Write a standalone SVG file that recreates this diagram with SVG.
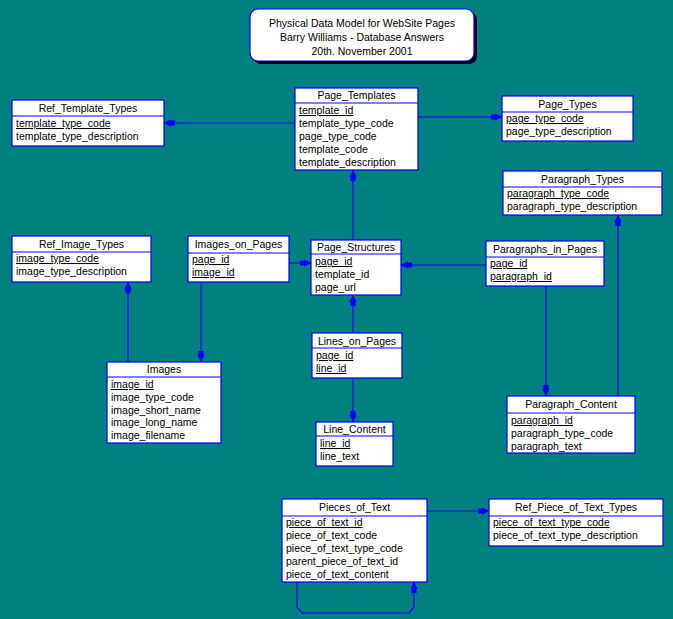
<svg xmlns="http://www.w3.org/2000/svg" width="673" height="619" viewBox="0 0 673 619">
<style>
.bg{fill:#008080}
.box{fill:#ffffff;stroke:#0000ff;stroke-width:1.2}
.sep{stroke:#0000ff;stroke-width:1.2}
text{font-family:"Liberation Sans",Arial,sans-serif;font-size:10.5px;fill:#000000}
.h{text-anchor:middle}
.pk{text-decoration:underline}
.t{text-anchor:middle;font-size:10.5px}
.c{fill:none;stroke:#0000ff;stroke-width:1.2}
</style>
<defs>
<marker id="arr" markerUnits="userSpaceOnUse" markerWidth="16" markerHeight="12" viewBox="-14 -6 16 12" refX="0" refY="0" orient="auto">
<path d="M0,0 L-7,-3.8 L-7,3.8 Z M-7,-2.6 H-11 V2.6 H-7 Z" fill="#0000ff"/>
</marker>
</defs>
<rect class="bg" x="0" y="0" width="673" height="619"/>

<g id="title">
<rect x="253" y="12" width="224" height="52" rx="8" fill="#000000"/>
<rect x="250" y="9" width="224" height="52" rx="8" fill="#ffffff" stroke="#0000ff" stroke-width="1.2"/>
<text class="t" x="362" y="27">Physical Data Model for WebSite Pages</text>
<text class="t" x="362" y="41">Barry Williams - Database Answers</text>
<text class="t" x="362" y="55">20th. November 2001</text>
</g>

<g id="connectors">
<path class="c" d="M295,123 H164" marker-end="url(#arr)"/>
<path class="c" d="M418,117 H502" marker-end="url(#arr)"/>
<path class="c" d="M353,240 V170" marker-end="url(#arr)"/>
<path class="c" d="M289,263 H311" marker-end="url(#arr)"/>
<path class="c" d="M201,282 V362" marker-end="url(#arr)"/>
<path class="c" d="M128,362 V282" marker-end="url(#arr)"/>
<path class="c" d="M486,265 H401" marker-end="url(#arr)"/>
<path class="c" d="M546,286 V396" marker-end="url(#arr)"/>
<path class="c" d="M618,396 V215" marker-end="url(#arr)"/>
<path class="c" d="M353,333 V295" marker-end="url(#arr)"/>
<path class="c" d="M353,378 V422" marker-end="url(#arr)"/>
<path class="c" d="M427,511 H489" marker-end="url(#arr)"/>
<path class="c" d="M297,582 V607 L302,613 H409 L414,607 V582" marker-end="url(#arr)"/>
</g>

<g id="Ref_Template_Types">
<rect class="box" x="12" y="100" width="152" height="46"/>
<line class="sep" x1="12" y1="116" x2="164" y2="116"/>
<text class="h" x="88" y="112">Ref_Template_Types</text>
<text class="pk" x="16" y="127">template_type_code</text>
<text x="16" y="140">template_type_description</text>
</g>

<g id="Page_Templates">
<rect class="box" x="295" y="88" width="123" height="82"/>
<line class="sep" x1="295" y1="103" x2="418" y2="103"/>
<text class="h" x="356.5" y="99">Page_Templates</text>
<text class="pk" x="299" y="114">template_id</text>
<text x="299" y="127">template_type_code</text>
<text x="299" y="140">page_type_code</text>
<text x="299" y="153">template_code</text>
<text x="299" y="166">template_description</text>
</g>

<g id="Page_Types">
<rect class="box" x="502" y="96" width="131" height="45"/>
<line class="sep" x1="502" y1="112" x2="633" y2="112"/>
<text class="h" x="567.5" y="108">Page_Types</text>
<text class="pk" x="506" y="122">page_type_code</text>
<text x="506" y="135">page_type_description</text>
</g>

<g id="Paragraph_Types">
<rect class="box" x="503" y="171" width="159" height="44"/>
<line class="sep" x1="503" y1="187" x2="662" y2="187"/>
<text class="h" x="582.5" y="183">Paragraph_Types</text>
<text class="pk" x="507" y="197">paragraph_type_code</text>
<text x="507" y="210">paragraph_type_description</text>
</g>

<g id="Ref_Image_Types">
<rect class="box" x="12" y="236" width="139" height="46"/>
<line class="sep" x1="12" y1="252" x2="151" y2="252"/>
<text class="h" x="81.5" y="248">Ref_Image_Types</text>
<text class="pk" x="16" y="262">image_type_code</text>
<text x="16" y="275">image_type_description</text>
</g>

<g id="Images_on_Pages">
<rect class="box" x="188" y="236" width="101" height="46"/>
<line class="sep" x1="188" y1="253" x2="289" y2="253"/>
<text class="h" x="238.5" y="248">Images_on_Pages</text>
<text class="pk" x="192" y="263">page_id</text>
<text class="pk" x="192" y="276">image_id</text>
</g>

<g id="Page_Structures">
<rect class="box" x="311" y="240" width="90" height="55"/>
<line class="sep" x1="311" y1="254" x2="401" y2="254"/>
<text class="h" x="356" y="251">Page_Structures</text>
<text class="pk" x="315" y="265">page_id</text>
<text x="315" y="278">template_id</text>
<text x="315" y="291">page_url</text>
</g>

<g id="Paragraphs_in_Pages">
<rect class="box" x="486" y="241" width="118" height="45"/>
<line class="sep" x1="486" y1="257" x2="604" y2="257"/>
<text class="h" x="545" y="253">Paragraphs_in_Pages</text>
<text class="pk" x="490" y="267">page_id</text>
<text class="pk" x="490" y="280">paragraph_id</text>
</g>

<g id="Lines_on_Pages">
<rect class="box" x="312" y="333" width="90" height="45"/>
<line class="sep" x1="312" y1="348" x2="402" y2="348"/>
<text class="h" x="357" y="345">Lines_on_Pages</text>
<text class="pk" x="316" y="359">page_id</text>
<text class="pk" x="316" y="372">line_id</text>
</g>

<g id="Images">
<rect class="box" x="107" y="362" width="114" height="81"/>
<line class="sep" x1="107" y1="377" x2="221" y2="377"/>
<text class="h" x="164" y="373">Images</text>
<text class="pk" x="111" y="388">image_id</text>
<text x="111" y="400.8">image_type_code</text>
<text x="111" y="413.6">image_short_name</text>
<text x="111" y="426.4">image_long_name</text>
<text x="111" y="439.2">image_filename</text>
</g>

<g id="Line_Content">
<rect class="box" x="316" y="422" width="77" height="44"/>
<line class="sep" x1="316" y1="436" x2="393" y2="436"/>
<text class="h" x="354.5" y="433">Line_Content</text>
<text class="pk" x="320" y="447">line_id</text>
<text x="320" y="460">line_text</text>
</g>

<g id="Paragraph_Content">
<rect class="box" x="507" y="396" width="128" height="57"/>
<line class="sep" x1="507" y1="413" x2="635" y2="413"/>
<text class="h" x="571" y="408">Paragraph_Content</text>
<text class="pk" x="511" y="424">paragraph_id</text>
<text x="511" y="437">paragraph_type_code</text>
<text x="511" y="450">paragraph_text</text>
</g>

<g id="Pieces_of_Text">
<rect class="box" x="282" y="499" width="145" height="83"/>
<line class="sep" x1="282" y1="516" x2="427" y2="516"/>
<text class="h" x="354.5" y="511">Pieces_of_Text</text>
<text class="pk" x="286" y="526">piece_of_text_id</text>
<text x="286" y="539">piece_of_text_code</text>
<text x="286" y="552">piece_of_text_type_code</text>
<text x="286" y="565">parent_piece_of_text_id</text>
<text x="286" y="578">piece_of_text_content</text>
</g>

<g id="Ref_Piece_of_Text_Types">
<rect class="box" x="489" y="499" width="174" height="47"/>
<line class="sep" x1="489" y1="516" x2="663" y2="516"/>
<text class="h" x="576" y="511">Ref_Piece_of_Text_Types</text>
<text class="pk" x="493" y="526">piece_of_text_type_code</text>
<text x="493" y="539">piece_of_text_type_description</text>
</g>
</svg>
